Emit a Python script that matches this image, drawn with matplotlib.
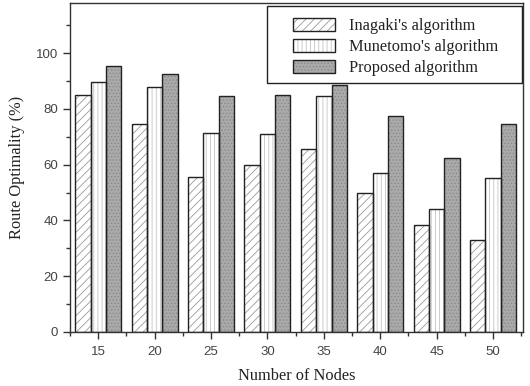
import matplotlib
matplotlib.use("Agg")
import matplotlib.pyplot as plt
import numpy as np
from matplotlib.patches import Patch, Rectangle
from matplotlib.legend_handler import HandlerTuple
from matplotlib.ticker import MultipleLocator

nodes = [15, 20, 25, 30, 35, 40, 45, 50]
inagaki = [85, 74.5, 55.5, 60, 65.5, 50, 38.5, 33]
munetomo = [89.5, 88, 71.5, 71, 84.5, 57, 44.2, 55.2]
proposed = [95.5, 92.5, 84.5, 85, 88.5, 77.5, 62.3, 74.5]
series_names = ["Inagaki's algorithm", "Munetomo's algorithm", "Proposed algorithm"]

plt.rcParams['hatch.linewidth'] = 0.6

fig = plt.figure(figsize=(5.3, 3.86), dpi=100)
ax = fig.add_axes([70/530, 1-332/386, 453/530, 329/386])

x = np.array(nodes, dtype=float)
w = 1.36
styles = [
    dict(face='white', hatch='////', hcol='#9a9a9a'),
    dict(face='white', hatch='||||', hcol='#c4c4c4'),
    dict(face='#aaaaaa', hatch='.....', hcol='#8a8a8a'),
]
handles = []
for i, (vals, st) in enumerate(zip([inagaki, munetomo, proposed], styles)):
    pos = x + (i - 1) * w
    ax.bar(pos, vals, width=w, color=st['face'], hatch=st['hatch'],
           edgecolor=st['hcol'], linewidth=0, zorder=2)
    ax.bar(pos, vals, width=w, fill=False, edgecolor='#222222',
           linewidth=1.0, zorder=3)
    h1 = Patch(facecolor=st['face'], hatch=st['hatch'], edgecolor=st['hcol'], linewidth=0)
    h2 = Patch(fill=False, edgecolor='#222222', linewidth=1.0)
    handles.append((h1, h2))

ax.set_xlim(12.5, 52.65)
ax.set_ylim(0, 118)
ax.set_xticks(nodes)
ax.xaxis.set_minor_locator(MultipleLocator(2.5))
ax.yaxis.set_major_locator(MultipleLocator(20))
ax.yaxis.set_minor_locator(MultipleLocator(10))
ax.tick_params(axis='both', which='major', direction='out', length=5, width=1,
               colors='#333333', labelcolor='#444444', labelsize=9.5)
ax.tick_params(axis='x', which='major', pad=5)
ax.tick_params(axis='both', which='minor', direction='out', length=3, width=1,
               colors='#333333')
for lbl in ax.get_xticklabels() + ax.get_yticklabels():
    lbl.set_fontfamily('Liberation Sans')
for s in ax.spines.values():
    s.set_color('#333333')
    s.set_linewidth(1.0)

ax.set_xlabel('Number of Nodes', family='Liberation Serif', fontsize=11.8, color='#222222', labelpad=7)
ax.set_ylabel('Route Optimality (%)', family='Liberation Serif', fontsize=11.8, color='#222222', labelpad=8)

# legend frame
ax.add_patch(Rectangle((0.435, 0.757), 0.563, 0.234, transform=ax.transAxes,
                       facecolor='white', edgecolor='#222222', linewidth=1.0, zorder=4))
leg = ax.legend(handles, series_names, handler_map={tuple: HandlerTuple(ndivide=1)},
                loc='upper left', bbox_to_anchor=(0.492, 0.954), borderaxespad=0,
                frameon=False,
                prop={'family': 'Liberation Serif', 'size': 11.8},
                handlelength=2.6, handleheight=0.87, labelspacing=0.28,
                borderpad=0, handletextpad=0.8)
leg.set_zorder(5)
for t in leg.get_texts():
    t.set_color('#222222')

fig.savefig('out.png', dpi=100)
